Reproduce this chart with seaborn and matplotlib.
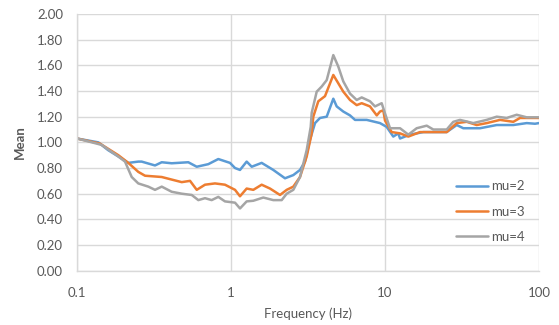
import numpy as np
import pandas as pd
import matplotlib
matplotlib.use("Agg")
import matplotlib.pyplot as plt
import seaborn as sns

# Mean response vs. frequency for three mu settings
freq_mu2 = [0.100, 0.1375, 0.159, 0.1855, 0.2154, 0.250, 0.263, 0.321, 0.355, 0.412,
            0.528, 0.599, 0.712, 0.827, 0.985, 1.062, 1.144, 1.264, 1.363, 1.582,
            1.882, 2.242, 2.539, 2.806, 3.023, 3.258, 3.512, 3.784, 4.183, 4.617,
            4.857, 5.36, 5.925, 6.386, 7.61, 9.28, 10.26, 11.32, 12.2, 12.52, 14.53,
            17.74, 25.16, 29.22, 32.24, 41.4, 53.13, 68.1, 83.2, 94.2, 100.0]
mean_mu2 = [1.03, 1.00, 0.94, 0.89, 0.84, 0.85, 0.85, 0.82, 0.845, 0.837,
            0.845, 0.81, 0.83, 0.87, 0.84, 0.80, 0.785, 0.85, 0.81, 0.84,
            0.785, 0.72, 0.745, 0.785, 0.85, 1.02, 1.15, 1.19, 1.20, 1.34,
            1.28, 1.24, 1.21, 1.175, 1.175, 1.15, 1.12, 1.045, 1.07, 1.03, 1.06,
            1.08, 1.08, 1.135, 1.11, 1.11, 1.135, 1.135, 1.15, 1.145, 1.15]

freq_mu3 = [0.100, 0.141, 0.1855, 0.2154, 0.250, 0.2765, 0.355, 0.412, 0.4786, 0.542,
            0.599, 0.678, 0.787, 0.914, 1.062, 1.144, 1.264, 1.396, 1.582, 1.792,
            2.081, 2.300, 2.539, 2.806, 3.101, 3.342, 3.423, 3.689, 4.078, 4.617,
            4.975, 5.36, 5.925, 6.55, 7.06, 7.99, 8.84, 9.28, 9.75, 10.0, 11.05,
            12.52, 14.17, 16.88, 25.16, 29.22, 33.93, 39.4, 45.75, 55.83, 68.1,
            75.3, 96.6, 100.0]
mean_mu3 = [1.03, 0.99, 0.90, 0.84, 0.77, 0.74, 0.73, 0.71, 0.69, 0.70,
            0.63, 0.67, 0.68, 0.67, 0.63, 0.58, 0.64, 0.63, 0.67, 0.64,
            0.59, 0.63, 0.655, 0.73, 0.89, 1.07, 1.20, 1.32, 1.36, 1.525,
            1.46, 1.395, 1.33, 1.29, 1.305, 1.28, 1.21, 1.24, 1.25, 1.17, 1.08,
            1.07, 1.045, 1.08, 1.08, 1.15, 1.16, 1.135, 1.15, 1.175, 1.16,
            1.19, 1.19, 1.19]

freq_mu4 = [0.100, 0.1447, 0.1855, 0.205, 0.2266, 0.250, 0.2904, 0.321, 0.355, 0.412,
            0.4786, 0.556, 0.6135, 0.678, 0.749, 0.827, 0.914, 1.062, 1.144, 1.264,
            1.396, 1.621, 1.882, 2.134, 2.300, 2.539, 2.806, 3.101, 3.293, 3.342,
            3.602, 3.882, 4.183, 4.617, 4.975, 5.36, 5.925, 6.55, 7.06, 7.99, 8.61,
            9.52, 10.0, 10.78, 12.52, 14.17, 16.06, 18.66, 20.59, 25.16, 27.77,
            30.69, 37.45, 45.75, 53.13, 61.7, 71.6, 83.2, 96.6, 100.0]
mean_mu4 = [1.03, 0.98, 0.89, 0.85, 0.73, 0.68, 0.655, 0.63, 0.655, 0.615,
            0.60, 0.59, 0.55, 0.565, 0.55, 0.575, 0.54, 0.53, 0.485, 0.54,
            0.545, 0.57, 0.55, 0.55, 0.60, 0.63, 0.73, 0.94, 1.12, 1.23,
            1.395, 1.435, 1.485, 1.68, 1.59, 1.475, 1.38, 1.33, 1.35, 1.32, 1.28,
            1.305, 1.225, 1.11, 1.11, 1.06, 1.11, 1.13, 1.10, 1.10, 1.16,
            1.175, 1.15, 1.175, 1.20, 1.19, 1.215, 1.195, 1.195, 1.195]

series_names = ["mu=2", "mu=3", "mu=4"]
series_colors = ["#5B9BD5", "#ED7D31", "#A5A5A5"]
y_ticks = [0.0, 0.2, 0.4, 0.6, 0.8, 1.0, 1.2, 1.4, 1.6, 1.8, 2.0]
x_ticks = [0.1, 1, 10, 100]
x_tick_labels = ["0.1", "1", "10", "100"]

df = pd.concat([
    pd.DataFrame({"Frequency": freq_mu2, "Mean": mean_mu2, "series": series_names[0]}),
    pd.DataFrame({"Frequency": freq_mu3, "Mean": mean_mu3, "series": series_names[1]}),
    pd.DataFrame({"Frequency": freq_mu4, "Mean": mean_mu4, "series": series_names[2]}),
], ignore_index=True)

sns.set_theme(style="white")
plt.rcParams["font.family"] = ["Lato", "DejaVu Sans"]
text_color = "#595959"
grid_color = "#D9D9D9"

fig = plt.figure(figsize=(5.59, 3.25), dpi=100)
ax = fig.add_axes([77 / 559, 54.3 / 325, 462 / 559, 256.7 / 325])

sns.lineplot(data=df, x="Frequency", y="Mean", hue="series",
             palette=dict(zip(series_names, series_colors)),
             estimator=None, sort=False, linewidth=1.8, ax=ax)

ax.set_xscale("log")
ax.set_xlim(0.1, 100)
ax.set_ylim(0, 2.0)
ax.set_xticks(x_ticks)
ax.set_xticklabels(x_tick_labels)
ax.xaxis.set_minor_locator(matplotlib.ticker.NullLocator())
ax.set_yticks(y_ticks)
ax.set_yticklabels([f"{v:.2f}" for v in y_ticks])

ax.grid(True, which="major", color=grid_color, linewidth=1.0)
ax.set_axisbelow(True)
for side in ["top", "right"]:
    ax.spines[side].set_visible(False)
for side in ["left", "bottom"]:
    ax.spines[side].set_color(grid_color)
    ax.spines[side].set_linewidth(1.0)

ax.tick_params(axis="both", length=0, labelsize=9.5, colors=text_color)
ax.tick_params(axis="x", pad=12)
ax.tick_params(axis="y", pad=10)

ax.set_xlabel("Frequency (Hz)", fontsize=9.5, color=text_color, labelpad=6)
ax.set_ylabel("Mean", fontsize=9.5, color=text_color, labelpad=8, fontweight="bold")

ax.legend(loc="upper left", bbox_to_anchor=(456 / 559, 0.445),
          bbox_transform=fig.transFigure, frameon=False, fontsize=9.5,
          handlelength=2.4, handletextpad=0.25, labelspacing=1.0,
          borderpad=0, borderaxespad=0, labelcolor=text_color)

fig.savefig("out.png", dpi=100)
